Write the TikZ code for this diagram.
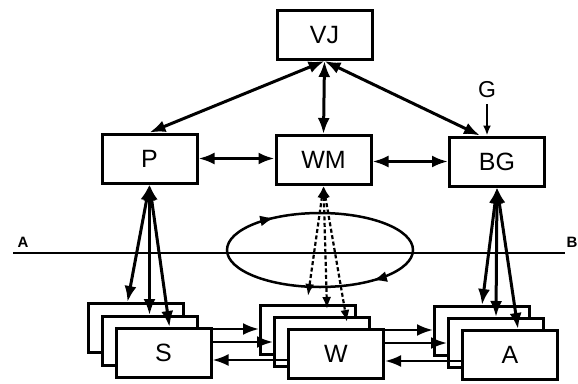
\documentclass[tikz,border=0pt]{standalone}
\usepackage{fontspec}
\setmainfont{Liberation Sans}
\usetikzlibrary{arrows.meta,decorations.markings}

\begin{document}
\begin{tikzpicture}[x=1pt,y=-1pt,>={Latex[length=16pt,width=12pt]},
 box/.style={draw,fill=white,line width=3pt,minimum width=95pt,minimum height=49pt,inner sep=0pt,font=\fontsize{25}{28}\selectfont},
 arr/.style={<->,line width=3pt},
 one/.style={->,line width=2.6pt},
 dsh/.style={{Latex[length=12pt,width=9pt]}-{Latex[length=12pt,width=9pt]},line width=2.2pt,dash pattern=on 4pt off 2.5pt},
 lbl/.style={font=\bfseries\fontsize{15}{17}\selectfont,inner sep=0pt},
 cyc/.style={line width=2.5pt,postaction={decorate},decoration={markings,
   mark=at position 0.125 with {\arrow{Latex[length=14pt,width=11pt]}},
   mark=at position 0.642 with {\arrow{Latex[length=14pt,width=11pt]}}}}]
\useasboundingbox (0,0) rectangle (578,383);
% upper level
\node[box] (vj) at (324.5,35) {VJ};
\node[box] (p) at (149.5,158.5) {P};
\node[box] (wm) at (323.5,160) {WM};
\node[box] (bg) at (497,161.5) {BG};
\node[font=\fontsize{23}{26}\selectfont,inner sep=0pt] (g) at (487,90) {G};
% dividing line and cycle
\coordinate (l1) at (13,253);
\coordinate (l2) at (565,253);
\draw[line width=2.5pt] (l1) -- (l2);
\node[lbl] (ta) at (23,242) {A};
\node[lbl] (tb) at (572,242) {B};
\draw[cyc] (320,250) ellipse [x radius=93, y radius=37];
% lower level, three stacks
\node[box] (s3) at (135.5,328) {};
\node[box] (s2) at (149.5,341) {};
\node[box] (s) at (163.5,353) {S};
\node[box] (w3) at (308,330) {};
\node[box] (w2) at (322,342) {};
\node[box] (w) at (336,354) {W};
\node[box] (a3) at (482,331) {};
\node[box] (a2) at (496,343) {};
\node[box] (a) at (510,355) {A};
% upper connections
\draw[arr] (vj.south) -- (p.north);
\draw[arr] (vj.south) -- (wm.north);
\draw[arr] (vj.south) -- ([xshift=-17pt]bg.north);
\draw[arr] (p.east) -- (p.east -| wm.west);
\draw[arr] (bg.west) -- (bg.west -| wm.east);
\draw[->,line width=2.6pt,>={Latex[length=10pt,width=8pt]}] ([yshift=-6pt]g.south) -- (g.south |- bg.north);
% down to the stacks
\draw[arr] (p.south) -- ([xshift=-8pt]s3.north);
\draw[arr] (p.south) -- (s2.north);
\draw[arr] (p.south) -- ([xshift=6pt]s.north);
\draw[arr] (bg.south) -- (a3.north);
\draw[arr] (bg.south) -- (a2.north);
\draw[arr] (bg.south) -- ([xshift=8pt]a.north);
\draw[dsh] (wm.south) -- ([yshift=8pt]w3.north);
\draw[dsh] (wm.south) -- ([xshift=5pt,yshift=7pt]w2.north);
\draw[dsh] (wm.south) -- ([xshift=11pt,yshift=6pt]w.north);
% between the stacks
\draw[one] ([yshift=-2pt]s.north east) -- ([yshift=-2pt]s.north east -| w3.west);
\draw[one] ([yshift=11pt]s.east) -- ([yshift=11pt]s.east -| w2.west);
\draw[one] ([yshift=-6pt]w.west) -- ([yshift=-6pt]w.west -| s.east);
\draw[one] ([yshift=-2pt]w.north east) -- ([yshift=-2pt]w.north east -| a3.west);
\draw[one] ([yshift=11pt]w.east) -- ([yshift=11pt]w.east -| a2.west);
\draw[one] ([yshift=-6pt]a.west) -- ([yshift=-6pt]a.west -| w.east);
\end{tikzpicture}
\end{document}
